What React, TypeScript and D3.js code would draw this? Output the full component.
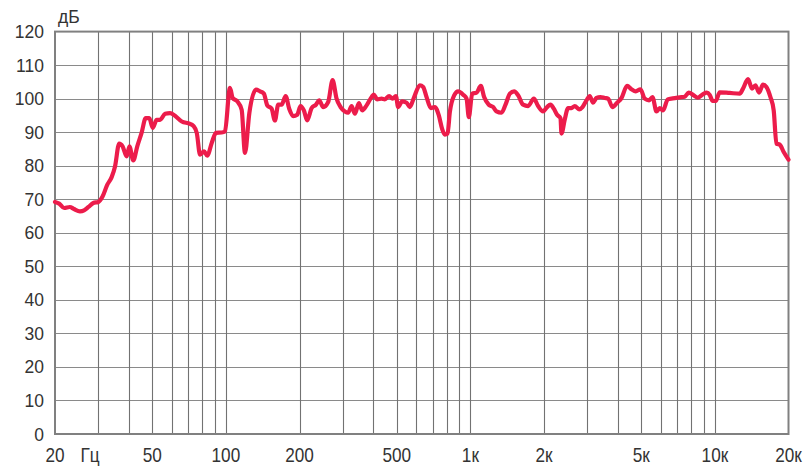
import { useEffect, useRef } from 'react';
import * as d3 from 'd3';

// frequency response (Hz, dB)
const freqs = [
  20, 20.8, 21.8, 23.0, 23.9, 25.3, 26.3, 27.4, 28.7, 30.1, 31.3, 32.7, 34.1, 35.2, 36.6, 37.8, 39.3, 40.3, 41.8, 43.4,
  45.2, 47.0, 48.6, 50.2, 52.1, 53.8, 56.4, 59.1, 61.9, 66.0, 71.3, 73.6, 76.0, 78.4, 81.4, 83.9, 87.5, 91.1, 96.1, 99.1,
  103.9, 106.6, 111.3, 116.0, 119.7, 124.7, 132.8, 137.8, 143, 147.6, 153.8, 158.7, 163.7, 169.0, 175.5, 181.5, 188.5, 195.7,
  202, 208.4, 215, 224.2, 233.4, 240.8, 250, 262, 273.2, 283.6, 294.4, 306.6, 316.2, 326.6, 337, 349.8, 361, 376.2,
  390.6, 403, 415.6, 433.2, 446.8, 465.2, 480.4, 495.6, 506.4, 525.8, 548.2, 565.4, 588.8, 621.2, 640.8, 661.6, 689, 715.4,
  742.8, 766.2, 786, 806.4, 824, 858.2, 891, 934, 964.4, 985.4, 1017, 1060, 1103, 1138, 1189, 1239, 1279, 1340,
  1392, 1450, 1510, 1567, 1643, 1722, 1817, 1892, 1983, 2059, 2126, 2194, 2262, 2336, 2358, 2432, 2509, 2590,
  2672, 2784, 2874, 2984, 3078, 3174, 3278, 3404, 3546, 3658, 3812, 3982, 4150, 4374, 4558, 4746, 4960, 5166,
  5380, 5554, 5768, 5948, 6136, 6414, 6724, 7184, 7528, 7816, 8192, 8508, 8918, 9262, 9526, 9798, 10078, 10464,
  11502, 12634, 13032, 13660, 14186, 14648, 15152, 15732, 16244, 16866, 17400, 17850, 18414, 19118, 20000,
];

const levels = [
  69.2, 68.7, 67.4, 67.7, 67.1, 66.4, 66.7, 67.7, 68.9, 69.2, 70.8, 74.3, 76.6, 79.8, 86.6, 85.8, 82.8, 85.8, 81.6, 85.8,
  89.8, 94.2, 94.2, 91.3, 93.7, 93.7, 95.5, 95.7, 94.9, 93.2, 92.5, 91.9, 89.8, 83.3, 84.3, 83.0, 86.8, 89.8, 89.9, 90.2,
  103.2, 100.2, 99.2, 96.7, 83.8, 95.7, 102.7, 102.2, 101.5, 98.0, 97.0, 93.5, 98.2, 98.2, 100.8, 97.0, 94.8, 95.2,
  97.8, 96.5, 93.5, 97.2, 98.2, 99.5, 97.5, 99.0, 105.5, 100.0, 97.5, 96.2, 95.8, 97.8, 95.5, 98.7, 96.5, 98.0,
  100.0, 101.2, 99.8, 100.0, 99.8, 100.8, 100.0, 100.8, 97.5, 99.2, 98.8, 97.5, 100.5, 104.0, 103.5, 100.5, 97.2, 97.5,
  95.0, 91.0, 89.3, 89.6, 96.0, 101.0, 102.2, 101.2, 100.0, 94.5, 101.5, 101.8, 103.8, 100.5, 98.2, 97.5, 96.2, 95.8,
  98.2, 101.5, 102.2, 101.0, 98.2, 97.8, 100.0, 97.8, 96.2, 97.5, 98.2, 97.0, 95.2, 94.2, 89.6, 93.8, 97.2, 97.2,
  97.8, 96.8, 97.5, 99.5, 100.8, 98.8, 100.2, 100.5, 100.2, 100.0, 97.5, 98.8, 100.2, 103.8, 102.8, 102.2, 102.8, 100.0,
  99.5, 100.5, 96.2, 97.2, 96.5, 99.8, 100.1, 100.4, 100.6, 101.8, 101.0, 100.3, 101.3, 101.8, 101.1, 99.3, 99.3, 101.9,
  101.7, 101.5, 103.0, 105.8, 103.0, 104.0, 101.8, 104.2, 103.5, 100.5, 96.5, 86.6, 86.3, 84.1, 81.8,
];

const gridFreqs = [
  30, 40, 50, 60, 70, 80, 90, 100, 200, 300, 400, 500, 600, 700, 800, 900,
  1000, 2000, 3000, 4000, 5000, 6000, 7000, 8000, 9000, 10000,
];
const yTicks = [0, 10, 20, 30, 40, 50, 60, 70, 80, 90, 100, 110, 120];
const xTickFreqs = [20, 50, 100, 200, 500, 1000, 2000, 5000, 10000, 20000];
const xTickLabels = ['20', '50', '100', '200', '500', '1к', '2к', '5к', '10к', '20к'];

const W = 810;
const H = 469;
const FONT = '"Liberation Sans", Arial, sans-serif';

const App = () => {
  const ref = useRef<SVGSVGElement | null>(null);

  useEffect(() => {
    if (!ref.current) return;
    const svg = d3.select(ref.current);
    svg.selectAll('*').remove();

    const x = d3.scaleLog().domain([20, 20000]).range([55, 788.5]);
    const y = d3.scaleLinear().domain([0, 120]).range([434, 31.6]);
    const px = (v: number) => Math.round(v) + 0.5;

    // grid
    const grid = svg.append('g');
    grid.selectAll('.h')
      .data(yTicks.slice(1, -1))
      .enter()
      .append('line')
      .attr('x1', x(20)).attr('x2', x(20000))
      .attr('y1', d => px(y(d))).attr('y2', d => px(y(d)))
      .attr('stroke', '#8a8a8a').attr('stroke-width', 1.1);
    grid.selectAll('.v')
      .data(gridFreqs)
      .enter()
      .append('line')
      .attr('x1', d => px(x(d))).attr('x2', d => px(x(d)))
      .attr('y1', y(0)).attr('y2', y(120))
      .attr('stroke', '#727272').attr('stroke-width', 1.1);
    svg.append('rect')
      .attr('x', x(20)).attr('y', y(120))
      .attr('width', x(20000) - x(20)).attr('height', y(0) - y(120))
      .attr('fill', 'none').attr('stroke', '#808080').attr('stroke-width', 2);

    // y labels
    svg.append('g')
      .selectAll('text')
      .data(yTicks)
      .enter()
      .append('text')
      .attr('x', 44)
      .attr('y', d => y(d) + 6.5)
      .attr('text-anchor', 'end')
      .attr('font-family', FONT)
      .attr('font-size', 17.5)
      .attr('fill', '#333')
      .text(d => d);

    svg.append('text')
      .attr('x', 58).attr('y', 22.5)
      .attr('font-family', FONT).attr('font-size', 17.5).attr('fill', '#333')
      .text('дБ');

    // x labels (narrow face)
    const xl = svg.append('g');
    xTickFreqs.forEach((f, i) => {
      xl.append('text')
        .attr('transform', `translate(${x(f)},462) scale(0.86,1)`)
        .attr('text-anchor', 'middle')
        .attr('font-family', FONT).attr('font-size', 20).attr('fill', '#333')
        .text(xTickLabels[i]);
    });
    xl.append('text')
      .attr('transform', `translate(${x(20) + 35},462) scale(0.86,1)`)
      .attr('text-anchor', 'middle')
      .attr('font-family', FONT).attr('font-size', 20).attr('fill', '#333')
      .text('Гц');

    // response curve
    const pts = freqs.map((f, i) => [f, levels[i]] as [number, number]);
    const line = d3.line<[number, number]>()
      .x(d => x(d[0]))
      .y(d => y(d[1]))
      .curve(d3.curveMonotoneX);
    svg.append('path')
      .datum(pts)
      .attr('d', line)
      .attr('fill', 'none')
      .attr('stroke', '#ec1c4b')
      .attr('stroke-width', 4.2)
      .attr('stroke-linejoin', 'round')
      .attr('stroke-linecap', 'round');

    return () => {
      svg.selectAll('*').remove();
    };
  }, []);

  return (
    <svg
      ref={ref}
      width={W}
      height={H}
      style={{ position: 'absolute', left: 0, top: 0, background: '#fff' }}
    />
  );
};

export default App;
